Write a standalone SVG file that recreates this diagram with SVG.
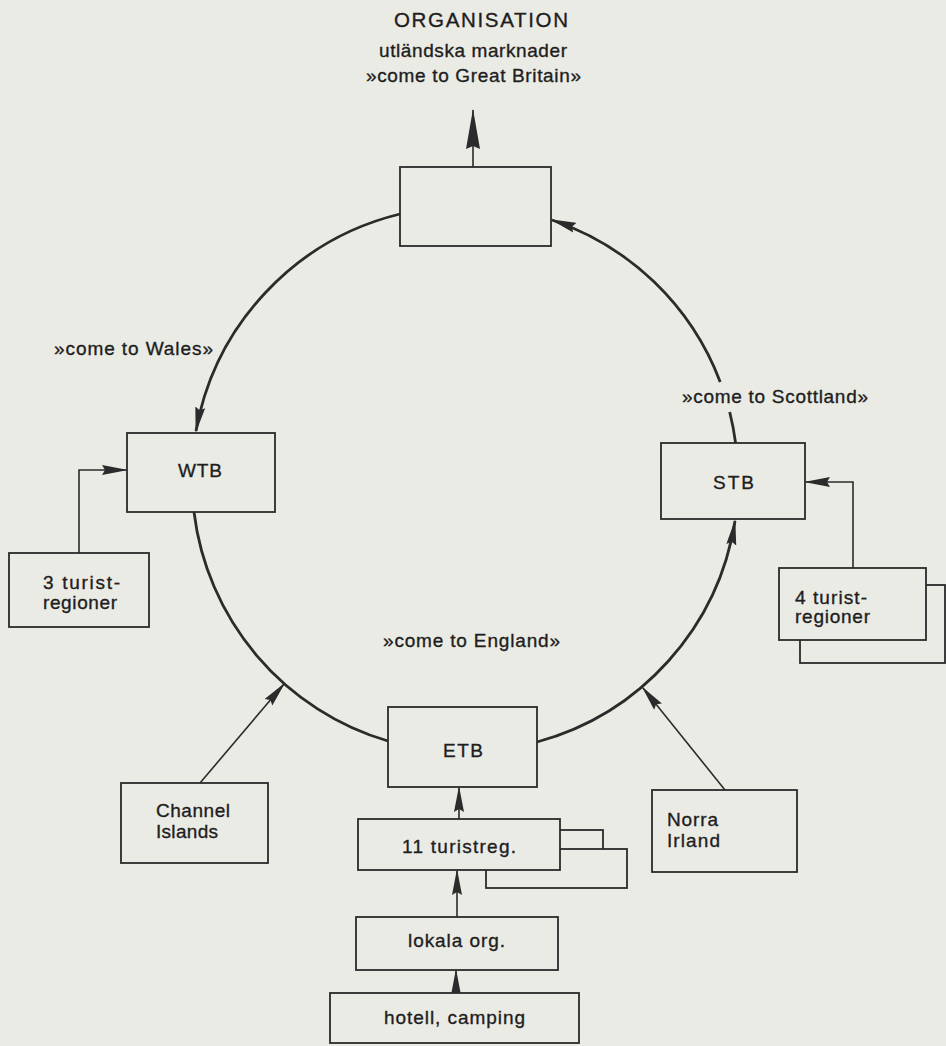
<svg xmlns="http://www.w3.org/2000/svg" width="946" height="1046" viewBox="0 0 946 1046">
<defs>
<style>
.bg{fill:#ebebe5}
.box{fill:#ebebe5;stroke:#2b2b2b;stroke-width:1.8}
.t{font-family:"Liberation Sans",Arial,sans-serif;font-size:19px;fill:#1e1e1e;stroke:#1e1e1e;stroke-width:0.35}
.arc{fill:none;stroke:#2b2b2b;stroke-width:2.8}
.ln{fill:none;stroke:#2b2b2b;stroke-width:1.6}
</style>
<marker id="ah" markerUnits="userSpaceOnUse" viewBox="0 0 26 11" markerWidth="26" markerHeight="11" refX="24" refY="5.5" orient="auto">
<path d="M0,0.5 L26,5.5 L0,10.5 L3,5.5 z" fill="#2b2b2b"/>
</marker>
<marker id="ahb" markerUnits="userSpaceOnUse" viewBox="0 0 40 15" markerWidth="40" markerHeight="15" refX="39" refY="7.5" orient="auto">
<path d="M0,0.5 L40,7.5 L0,14.5 L3,7.5 z" fill="#2b2b2b"/>
</marker>
</defs>
<rect class="bg" x="0" y="0" width="946" height="1046"/>

<g id="connectors">
<path class="arc" d="M400,214 A273,273 0 0 0 196,431" marker-end="url(#ah)"/>
<path class="arc" d="M194,512 A273,273 0 0 0 388,741"/>
<path class="arc" d="M537,742 A273,273 0 0 0 735,521" marker-end="url(#ah)"/>
<path class="arc" d="M735.6,443 A273,273 0 0 0 729.7,412"/>
<path class="arc" d="M720.2,382 A273,273 0 0 0 552,220" marker-end="url(#ah)"/>
<path class="ln" d="M473,167 V110" marker-end="url(#ahb)"/>
<path class="ln" d="M79,553 V470 H126" marker-end="url(#ah)"/>
<path class="ln" d="M853,568 V482 H806" marker-end="url(#ah)"/>
<path class="ln" d="M200,783 L284,684" marker-end="url(#ah)"/>
<path class="ln" d="M725,790 L643,688" marker-end="url(#ah)"/>
<path class="ln" d="M459,819 V788" marker-end="url(#ah)"/>
<path class="ln" d="M457,917 V871" marker-end="url(#ah)"/>
<path class="ln" d="M456,993 V971" marker-end="url(#ah)"/>
</g>

<g id="org">
<rect class="box" x="400" y="167" width="151" height="79"/>
<text class="t" x="394" y="27" textLength="174" lengthAdjust="spacing" style="font-size:20.5px">ORGANISATION</text>
<text class="t" x="379" y="57" textLength="188" lengthAdjust="spacing">utländska marknader</text>
<text class="t" x="366" y="82" textLength="215" lengthAdjust="spacing">»come to Great Britain»</text>
</g>

<g id="label-wales"><text class="t" x="54" y="355" textLength="159" lengthAdjust="spacing">»come to Wales»</text></g>
<g id="label-scotland"><text class="t" x="682" y="403" textLength="186" lengthAdjust="spacing">»come to Scottland»</text></g>
<g id="label-england"><text class="t" x="383" y="647" textLength="177" lengthAdjust="spacing">»come to England»</text></g>

<g id="wtb">
<rect class="box" x="127" y="433" width="148" height="79"/>
<text class="t" x="178" y="477" textLength="44" lengthAdjust="spacing">WTB</text>
</g>

<g id="reg3">
<rect class="box" x="9" y="553" width="140" height="74"/>
<text class="t" x="43" y="589" textLength="77" lengthAdjust="spacing">3 turist-</text>
<text class="t" x="43" y="609" textLength="74" lengthAdjust="spacing">regioner</text>
</g>

<g id="stb">
<rect class="box" x="661" y="443" width="144" height="76"/>
<text class="t" x="713" y="489" textLength="41" lengthAdjust="spacing">STB</text>
</g>

<g id="reg4">
<rect class="box" x="800" y="585" width="145" height="78"/>
<rect class="box" x="779" y="568" width="147" height="72"/>
<text class="t" x="795" y="604" textLength="72" lengthAdjust="spacing">4 turist-</text>
<text class="t" x="795" y="623" textLength="75" lengthAdjust="spacing">regioner</text>
</g>

<g id="etb">
<rect class="box" x="388" y="707" width="149" height="80"/>
<text class="t" x="443" y="757" textLength="40" lengthAdjust="spacing">ETB</text>
</g>

<g id="channel">
<rect class="box" x="121" y="783" width="147" height="80"/>
<text class="t" x="156" y="817" textLength="74" lengthAdjust="spacing">Channel</text>
<text class="t" x="156" y="838" textLength="62" lengthAdjust="spacing">Islands</text>
</g>

<g id="norra">
<rect class="box" x="652" y="790" width="145" height="82"/>
<text class="t" x="667" y="826" textLength="51" lengthAdjust="spacing">Norra</text>
<text class="t" x="667" y="847" textLength="53" lengthAdjust="spacing">Irland</text>
</g>

<g id="reg11">
<rect class="box" x="390" y="830" width="213" height="30"/>
<rect class="box" x="486" y="849" width="141" height="39"/>
<rect class="box" x="358" y="819" width="202" height="51"/>
<text class="t" x="402" y="853" textLength="114" lengthAdjust="spacing">11 turistreg.</text>
</g>

<g id="lokala">
<rect class="box" x="356" y="917" width="202" height="53"/>
<text class="t" x="408" y="947" textLength="97" lengthAdjust="spacing">lokala org.</text>
</g>

<g id="hotell">
<rect class="box" x="330" y="993" width="249" height="50"/>
<text class="t" x="384" y="1024" textLength="141" lengthAdjust="spacing">hotell, camping</text>
</g>
</svg>
